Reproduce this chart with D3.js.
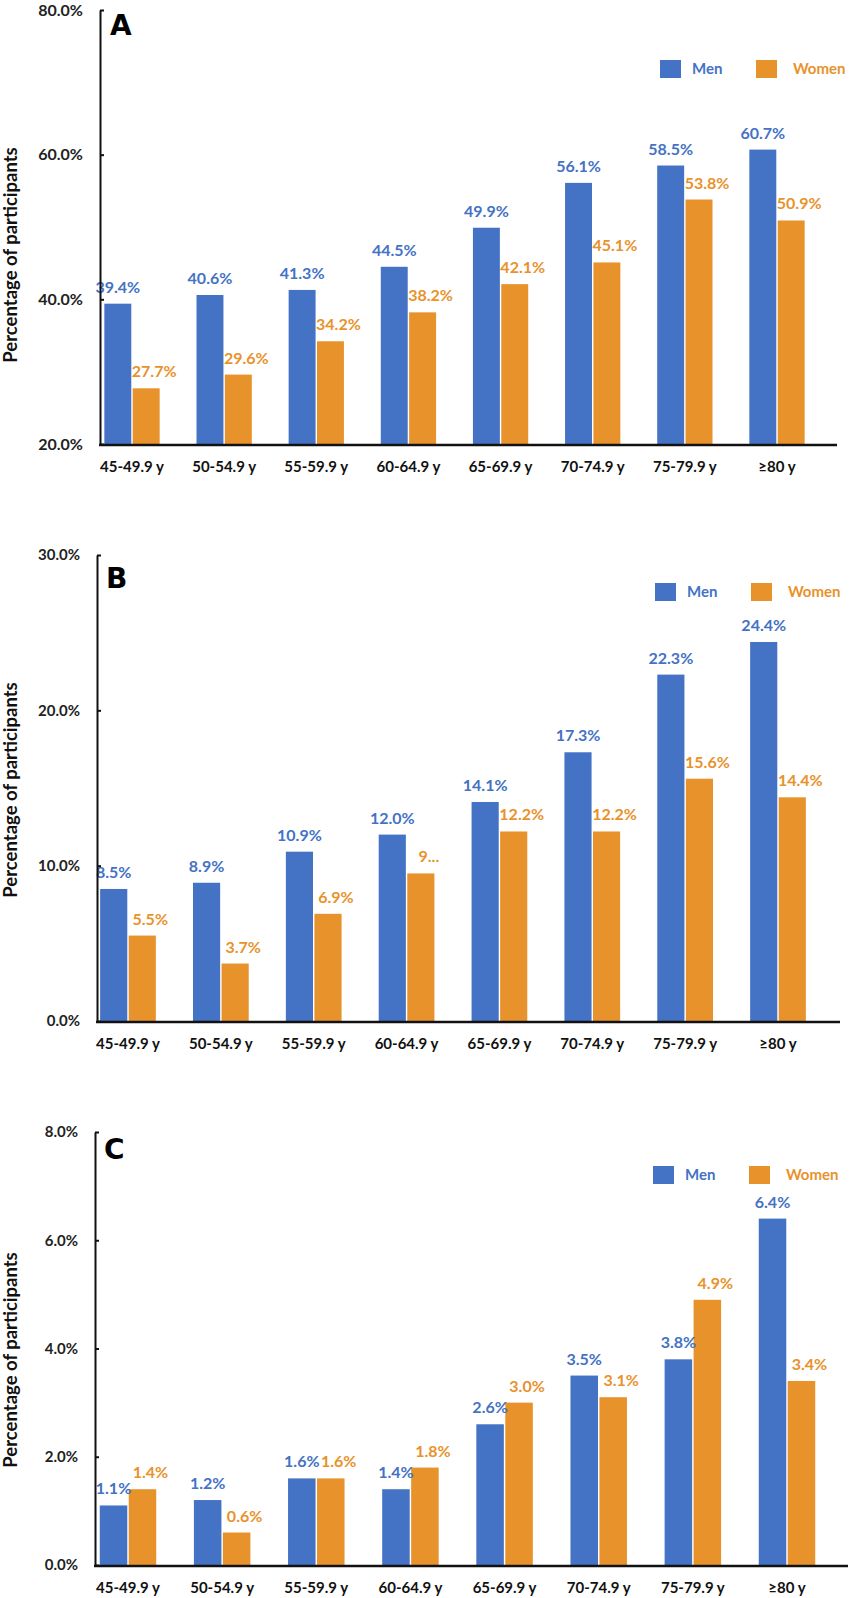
<!DOCTYPE html>
<html>
<head>
<meta charset="utf-8">
<script src="https://cdn.jsdelivr.net/npm/d3@7"></script>
<style>
  body { margin: 0; background: #fff; }
  text { font-family: Lato, "Open Sans", sans-serif; font-weight: bold; }
</style>
</head>
<body>
<svg id="chart" width="850" height="1598"></svg>
<script>
var ageGroups = ["45-49.9 y", "50-54.9 y", "55-59.9 y", "60-64.9 y", "65-69.9 y", "70-74.9 y", "75-79.9 y", "\u226580 y"];

var menA = [39.4, 40.6, 41.3, 44.5, 49.9, 56.1, 58.5, 60.7];
var womenA = [27.7, 29.6, 34.2, 38.2, 42.1, 45.1, 53.8, 50.9];
var ticksA = [20, 40, 60, 80];

var menB = [8.5, 8.9, 10.9, 12.0, 14.1, 17.3, 22.3, 24.4];
var womenB = [5.5, 3.7, 6.9, 9.5, 12.2, 12.2, 15.6, 14.4];
var womenLabelsB = ["5.5%", "3.7%", "6.9%", "9...", "12.2%", "12.2%", "15.6%", "14.4%"];
var ticksB = [0, 10, 20, 30];

var menC = [1.1, 1.2, 1.6, 1.4, 2.6, 3.5, 3.8, 6.4];
var womenC = [1.4, 0.6, 1.6, 1.8, 3.0, 3.1, 4.9, 3.4];
var ticksC = [0, 2, 4, 6, 8];

var BLUE = "#4472C4";
var ORANGE = "#E8922B";

var svg = d3.select("#chart");
svg.append("rect").attr("width", 850).attr("height", 1598).attr("fill", "#fff");

function fmt(v) { return v.toFixed(1) + "%"; }

// one panel = one grouped bar chart
function drawPanel(p) {
    var g = svg.append("g");

    var step = (p.c8 - p.c1) / 7;
    var x0 = d3.scaleBand().domain(ageGroups)
        .range([p.c1 - step / 2, p.c8 + step / 2])
        .paddingInner(0.4).paddingOuter(0.2);
    var x1 = d3.scaleBand().domain(["men", "women"])
        .range([0, x0.bandwidth()]).paddingInner(0.05);
    var y = d3.scaleLinear().domain([p.ticks[0], p.ticks[p.ticks.length - 1]])
        .range([p.bottom, p.top]);

    var rows = ageGroups.map(function (a, i) {
        return {age: a, men: p.men[i], women: p.women[i],
                menLabel: fmt(p.men[i]),
                womenLabel: p.womenLabels ? p.womenLabels[i] : fmt(p.women[i])};
    });

    var grp = g.selectAll(".grp").data(rows).enter().append("g")
        .attr("transform", function (d) { return "translate(" + x0(d.age) + ",0)"; });

    grp.append("rect")
        .attr("x", x1("men")).attr("width", x1.bandwidth())
        .attr("y", function (d) { return y(d.men); })
        .attr("height", function (d) { return p.bottom - y(d.men); })
        .attr("fill", BLUE);
    grp.append("rect")
        .attr("x", x1("women")).attr("width", x1.bandwidth())
        .attr("y", function (d) { return y(d.women); })
        .attr("height", function (d) { return p.bottom - y(d.women); })
        .attr("fill", ORANGE);

    grp.append("text")
        .attr("x", x1("men") + x1.bandwidth() / 2)
        .attr("y", function (d) { return y(d.men) - 11; })
        .attr("text-anchor", "middle").attr("font-size", 16)
        .attr("fill", BLUE)
        .text(function (d) { return d.menLabel; });
    grp.append("text")
        .attr("x", x1("women") + x1.bandwidth() / 2 + 8)
        .attr("y", function (d) { return y(d.women) - 11; })
        .attr("text-anchor", "middle").attr("font-size", 16)
        .attr("fill", ORANGE)
        .text(function (d) { return d.womenLabel; });

    // y axis
    var ya = g.append("g").attr("transform", "translate(" + p.axisLeft + ",0)")
        .call(d3.axisLeft(y).tickValues(p.ticks).tickFormat(fmt)
            .tickSizeInner(-4).tickSizeOuter(0).tickPadding(17));
    ya.select(".domain").attr("stroke", "#111").attr("stroke-width", 2);
    ya.selectAll(".tick line").attr("stroke", "#111").attr("stroke-width", 2);
    ya.selectAll(".tick text").attr("font-size", p.tickFont).attr("fill", "#222")
        .style("font-family", "Lato, sans-serif").style("font-weight", "bold");

    // x axis line + labels
    g.append("line")
        .attr("x1", p.axisLeft - 1).attr("x2", p.axisRight)
        .attr("y1", p.bottom + 1).attr("y2", p.bottom + 1)
        .attr("stroke", "#111").attr("stroke-width", 2.5);
    var xa = g.append("g").attr("transform", "translate(0," + p.bottom + ")")
        .call(d3.axisBottom(x0).tickSize(0).tickPadding(17));
    xa.select(".domain").remove();
    xa.selectAll(".tick text").attr("font-size", 15).attr("fill", "#111")
        .style("font-family", "Lato, sans-serif").style("font-weight", "bold");

    // axis title
    g.append("text")
        .attr("transform", "translate(" + 17 + "," + p.titleY + ") rotate(-90)")
        .attr("text-anchor", "middle").attr("font-size", 18.5).attr("fill", "#111")
        .text("Percentage of participants");

    // panel letter
    g.append("text").attr("x", p.letterX).attr("y", p.letterY)
        .attr("font-size", 28).attr("fill", "#000")
        .style("font-family", "'DejaVu Sans', sans-serif").style("font-weight", "bold")
        .text(p.letter);

    // legend
    var leg = g.append("g").attr("transform", "translate(0," + p.legendY + ")");
    leg.append("rect").attr("x", p.legendX).attr("y", -9).attr("width", 21).attr("height", 18).attr("fill", BLUE);
    leg.append("text").attr("x", p.legendX + 32).attr("y", 5).attr("font-size", 15).attr("fill", BLUE).text("Men");
    leg.append("rect").attr("x", p.legendX + 96).attr("y", -9).attr("width", 21).attr("height", 18).attr("fill", ORANGE);
    leg.append("text").attr("x", p.legendX + 133).attr("y", 5).attr("font-size", 15).attr("fill", ORANGE).text("Women");
}

drawPanel({letter: "A", men: menA, women: womenA, ticks: ticksA, tickFont: 16,
    top: 10, bottom: 444, axisLeft: 100, axisRight: 837, c1: 132, c8: 777,
    titleY: 255, letterX: 110, letterY: 35, legendX: 660, legendY: 69});
drawPanel({letter: "B", men: menB, women: womenB, womenLabels: womenLabelsB, ticks: ticksB, tickFont: 15,
    top: 555, bottom: 1021, axisLeft: 97, axisRight: 840, c1: 128, c8: 778,
    titleY: 790, letterX: 106, letterY: 588, legendX: 655, legendY: 592});
drawPanel({letter: "C", men: menC, women: womenC, ticks: ticksC, tickFont: 15,
    top: 1132, bottom: 1565, axisLeft: 95, axisRight: 848, c1: 128, c8: 787,
    titleY: 1360, letterX: 104, letterY: 1159, legendX: 653, legendY: 1175});
</script>
</body>
</html>
